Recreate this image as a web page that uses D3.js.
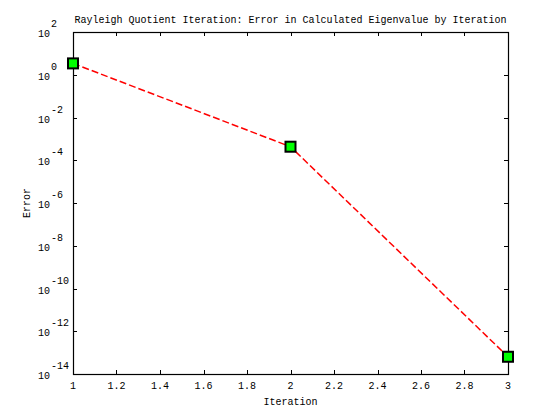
<!DOCTYPE html>
<html>
<head>
<meta charset="utf-8">
<script src="https://cdn.jsdelivr.net/npm/d3@7"></script>
<style>
  body { margin: 0; background: #fff; }
  text { font-family: "Liberation Mono", "DejaVu Sans Mono", monospace; font-size: 10px; fill: #000; }
</style>
</head>
<body>
<div id="vis"></div>
<script>
// data
var iterations = [1, 2, 3];
var errors = [3.4, 4.3e-4, 6.4e-14];
var xTicks = [1, 1.2, 1.4, 1.6, 1.8, 2, 2.2, 2.4, 2.6, 2.8, 3];
var yExponents = [2, 0, -2, -4, -6, -8, -10, -12, -14];

var W = 560, H = 420;
var margin = {top: 32, right: 52, bottom: 46, left: 73};
var width = W - margin.left - margin.right,
    height = H - margin.top - margin.bottom;

var svg = d3.select("#vis").append("svg")
    .attr("width", W)
    .attr("height", H);

var g = svg.append("g")
    .attr("transform", "translate(" + margin.left + "," + margin.top + ")");

var x = d3.scaleLinear().domain([1, 3]).range([0, width]);
var y = d3.scaleLog().domain([1e-14, 1e2]).range([height, 0]);

var tickLen = 4;

// x ticks, bottom and mirrored on top
g.selectAll(".xt").data(xTicks).enter().append("path")
    .attr("d", function(d) {
      var px = Math.round(x(d)) + 0.5;
      return "M" + px + "," + height + "v" + (-tickLen) + "M" + px + ",0v" + tickLen;
    })
    .attr("stroke", "#000").attr("stroke-width", 1);

g.selectAll(".xl").data(xTicks).enter().append("text")
    .attr("x", function(d) { return x(d); })
    .attr("y", height + 15)
    .attr("text-anchor", "middle")
    .text(function(d) { return d3.format("")(d); });

// y ticks, left and mirrored on right
g.selectAll(".yt").data(yExponents).enter().append("path")
    .attr("d", function(d) {
      var py = Math.round(y(Math.pow(10, d))) + 0.5;
      return "M0," + py + "h" + tickLen + "M" + width + "," + py + "h" + (-tickLen);
    })
    .attr("stroke", "#000").attr("stroke-width", 1);

// labels like 10^-4, base and raised exponent
var yl = g.selectAll(".yl").data(yExponents).enter().append("g")
    .attr("transform", function(d) { return "translate(-23," + y(Math.pow(10, d)) + ")"; });
yl.append("text")
    .attr("x", 0).attr("y", 5)
    .attr("text-anchor", "end")
    .text("10");
yl.append("text")
    .attr("x", 1).attr("y", -5)
    .attr("text-anchor", "start")
    .text(function(d) { return String(d); });

// frame
g.append("rect")
    .attr("x", 0.5).attr("y", 0.5)
    .attr("width", width).attr("height", height)
    .attr("fill", "none").attr("stroke", "#000").attr("stroke-width", 1.2);

// dashed error line
var line = d3.line()
    .x(function(d, i) { return x(iterations[i]); })
    .y(function(d) { return y(d); });

g.append("path")
    .datum(errors)
    .attr("d", line)
    .attr("fill", "none")
    .attr("stroke", "#f00")
    .attr("stroke-width", 1.5)
    .attr("stroke-dasharray", "7,3");

// markers
g.selectAll(".pt").data(errors).enter().append("rect")
    .attr("x", function(d, i) { return x(iterations[i]) - 5; })
    .attr("y", function(d) { return y(d) - 5; })
    .attr("width", 10).attr("height", 10)
    .attr("fill", "#00ff00")
    .attr("stroke", "#000")
    .attr("stroke-width", 2);

// title and axis labels
svg.append("text")
    .attr("x", margin.left + width / 2)
    .attr("y", 23)
    .attr("text-anchor", "middle")
    .text("Rayleigh Quotient Iteration: Error in Calculated Eigenvalue by Iteration");

svg.append("text")
    .attr("x", margin.left + width / 2)
    .attr("y", 405)
    .attr("text-anchor", "middle")
    .text("Iteration");

svg.append("text")
    .attr("transform", "translate(30," + (margin.top + height / 2) + ") rotate(-90)")
    .attr("text-anchor", "middle")
    .text("Error");
</script>
</body>
</html>
